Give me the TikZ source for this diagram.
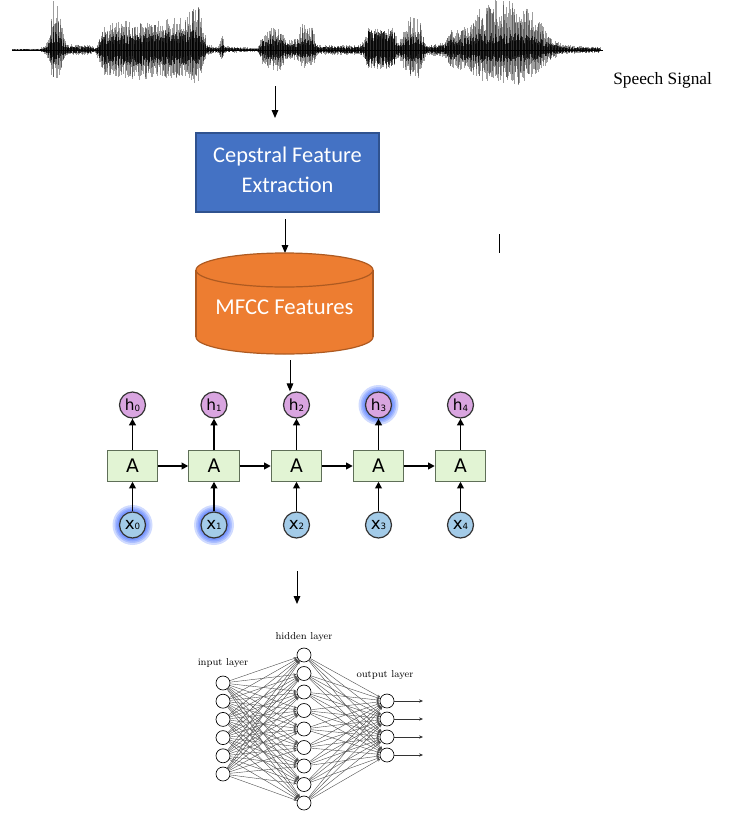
\documentclass[tikz,border=0pt]{standalone}
\usepackage{fontspec}
\newfontfamily\calibrifont{Carlito}
\newfontfamily\timesfont{Liberation Serif}
\newfontfamily\dejavufont{DejaVu Sans}
\usetikzlibrary{arrows.meta}
\definecolor{cepblue}{HTML}{4472C4}
\definecolor{cepborder}{HTML}{2F528F}
\definecolor{mfccor}{HTML}{ED7D31}
\definecolor{mfccborder}{HTML}{AE5A21}
\definecolor{cellgreen}{HTML}{E2F4D4}
\definecolor{cellborder}{HTML}{5F6F58}
\definecolor{hpink}{HTML}{D9A5E0}
\definecolor{xblue}{HTML}{A3CBE8}
\definecolor{glowblue}{HTML}{2B5BFF}
\newcommand{\subdigit}[1]{\raisebox{-0.5pt}{\fontsize{6.5}{7}\selectfont #1}}
\tikzset{
  arr/.style={black, line width=0.75pt, -{Triangle[length=6pt,width=5pt]}},
  rarr/.style={black, line width=1.3pt, -{Triangle[length=5pt,width=5pt]}},
  cepbox/.style={draw=cepborder, fill=cepblue, line width=1.2pt, minimum width=137pt, minimum height=59pt, inner sep=0pt},
  boxtext/.style={align=center, text=white, font=\calibrifont\fontsize{16.8}{22.5}\selectfont, inner sep=0pt},
  cell/.style={draw=cellborder, fill=cellgreen, line width=0.6pt, minimum width=38pt, minimum height=23pt, inner sep=0pt, font=\dejavufont\fontsize{14}{16}\selectfont},
  hnode/.style={circle, draw=black!80, fill=hpink, line width=0.9pt, minimum size=19.5pt, inner sep=0pt, font=\dejavufont\fontsize{11.5}{12}\selectfont},
  xnode/.style={circle, draw=black!80, fill=xblue, line width=0.9pt, minimum size=19.5pt, inner sep=0pt, font=\dejavufont\fontsize{12.5}{12}\selectfont},
  nn/.style={circle, draw=black, fill=white, line width=0.5pt, minimum size=10.5pt, inner sep=0pt},
  nnedge/.style={black!70, line width=0.3pt, -{Stealth[length=2.5pt,width=2pt]}},
  nnout/.style={black!80, line width=0.4pt, -{Stealth[length=3pt,width=2.5pt]}},
  nnlabel/.style={font=\fontsize{7.5}{9}\selectfont, inner sep=0pt},
  waveouter/.style={black, opacity=0.38, line width=0.55pt},
  wavecore/.style={black, opacity=0.7, line width=0.6pt},
}
\begin{document}
\begin{tikzpicture}[x=0.75pt, y=-0.75pt]
\useasboundingbox (0,0) rectangle (754,829);
% ---- speech waveform ----
\pgfmathsetseed{23}
\draw[black, line width=0.7pt] (12,50) -- (603,50);
\foreach \xb/\ub/\db/\cb [remember=\xb as \xa (initially 12), remember=\ub as \ua (initially 1), remember=\db as \da (initially 1), remember=\cb as \ca (initially 0.6)] in {40/1.5/1.5/.6, 46/5/5/.6, 50/20/15/.5, 53/50/33/.4, 58/45/30/.35, 63/20/15/.4, 67/6/5/.6, 90/5/5/.6, 95/2/2/.6, 99/12/12/.6, 104/25/25/.6, 115/30/28/.55, 140/28/30/.55, 165/32/28/.55, 185/33/28/.55, 192/45/33/.45, 198/50/35/.4, 203/25/20/.4, 207/6/5/.6, 218/3/3/.6, 222/18/13/.4, 225/4/3/.6, 258/2/2/.6, 262/15/15/.6, 270/22/20/.5, 280/24/22/.45, 287/10/9/.6, 297/12/10/.6, 302/27/18/.45, 312/25/18/.45, 317/5/5/.6, 360/5/5/.7, 365/12/10/.7, 368/23/19/.85, 394/23/19/.85, 398/8/8/.6, 405/20/20/.5, 410/35/30/.4, 420/30/28/.4, 426/5/5/.6, 445/8/8/.6, 450/20/18/.5, 470/25/22/.5, 478/40/30/.4, 495/50/35/.35, 520/50/35/.35, 540/30/22/.4, 550/12/10/.5, 565/5/4/.6, 600/3/3/.6}{
  \pgfmathtruncatemacro\nn{(\xb-\xa)/0.6}
  \ifnum\nn>0
  \foreach \k in {0,...,\nn}{
    \pgfmathsetmacro\tt{\k/\nn}
    \pgfmathsetmacro\xx{\xa+(\xb-\xa)*\tt}
    \pgfmathsetmacro\up{\ua+(\ub-\ua)*\tt}
    \pgfmathsetmacro\dn{\da+(\db-\da)*\tt}
    \pgfmathsetmacro\cf{\ca+(\cb-\ca)*\tt}
    \pgfmathsetmacro\uu{\up*(0.4+0.6*rnd)}
    \pgfmathsetmacro\dd{\dn*(0.4+0.6*rnd)}
    \pgfmathsetmacro\cu{\up*\cf*(0.35+0.65*rnd)}
    \pgfmathsetmacro\cd{\dn*\cf*(0.35+0.65*rnd)}
    \draw[waveouter] (\xx,50-\uu) -- (\xx,50+\dd);
    \draw[wavecore] (\xx,50-\cu) -- (\xx,50+\cd);
  }
  \fi
}
\node[font=\timesfont\fontsize{13}{15}\selectfont, anchor=west, inner sep=0pt] (speech) at (613,80) {Speech Signal};
\coordinate (w1) at (275,86);
\coordinate (w2) at (275,118);
\draw[arr] (w1) -- (w2);
% ---- cepstral box ----
\node[cepbox] (cep) at (287.5,172.5) {};
\node[boxtext] (ceptext) at (287.5,169.5) {Cepstral Feature\\Extraction};
\coordinate (c1) at (285,219);
\coordinate (cyltop) at (285,253);
\draw[arr] (c1) -- (cyltop);
% stray mark
\coordinate (s1) at (499,234);
\coordinate (s2) at (499,253);
\draw[black, line width=0.6pt] (s1) -- (s2);
% ---- MFCC cylinder ----
\fill[mfccor] (196,270) rectangle (373,337);
\fill[mfccor] (284.5,337) ellipse [x radius=88.5, y radius=17];
\draw[mfccborder, line width=0.9pt] (196,270) -- (196,337) (373,270) -- (373,337);
\begin{scope}
  \clip (190,337) rectangle (380,360);
  \draw[mfccborder, line width=0.9pt] (284.5,337) ellipse [x radius=88.5, y radius=17];
\end{scope}
\draw[mfccborder, fill=mfccor, line width=0.9pt] (284.5,270) ellipse [x radius=88.5, y radius=17];
\node[text=white, font=\calibrifont\fontsize{17}{19}\selectfont, inner sep=0pt] (mfcc) at (284.5,307) {MFCC Features};
% ---- RNN ----
\foreach \gx/\gy in {378.5/405, 132.5/525, 214/525}{
  \foreach \r in {20,18,16.5,15}{
    \fill[glowblue, opacity=0.22] (\gx,\gy) circle [radius=\r];
  }
}
\foreach \i/\cx in {0/132.5,1/214,2/296.5,3/378.5,4/460.5}{
  \node[cell] (A\i) at (\cx,466) {A};
  \node[hnode] (h\i) at (\cx,405) {h\subdigit{\i}};
  \node[xnode] (x\i) at (\cx,525) {x\subdigit{\i}};
  \draw[rarr] (A\i) -- (h\i);
  \draw[rarr] (x\i) -- (A\i);
}
\foreach \i/\j in {0/1,1/2,2/3,3/4}{
  \draw[rarr] (A\i) -- (A\j);
}
\coordinate (m1) at (290,360);
\draw[arr] (m1) -- (h2.north -| m1);
% ---- arrow to network ----
\coordinate (r1) at (297,571);
\coordinate (r2) at (297,604);
\draw[arr] (r1) -- (r2);
% ---- feed-forward network ----
\foreach \i in {0,...,5}{
  \node[nn] (I\i) at (223,{683+18.2*\i}) {};
}
\foreach \i in {0,...,8}{
  \node[nn] (H\i) at (304,{655+18.5*\i}) {};
}
\foreach \i in {0,...,3}{
  \node[nn] (O\i) at (387,{701+18*\i}) {};
  \coordinate (E\i) at (423,{701+18*\i});
}
\foreach \i in {0,...,5}{
  \foreach \j in {0,...,8}{
    \draw[nnedge] (I\i) -- (H\j);
  }
}
\foreach \i in {0,...,8}{
  \foreach \j in {0,...,3}{
    \draw[nnedge] (H\i) -- (O\j);
  }
}
\foreach \i in {0,...,3}{
  \draw[nnout] (O\i) -- (E\i);
}
\node[nnlabel] (lin) at (223,663) {input layer};
\node[nnlabel] (lhid) at (304,637) {hidden layer};
\node[nnlabel] (lout) at (385,675) {output layer};
\end{tikzpicture}
\end{document}
